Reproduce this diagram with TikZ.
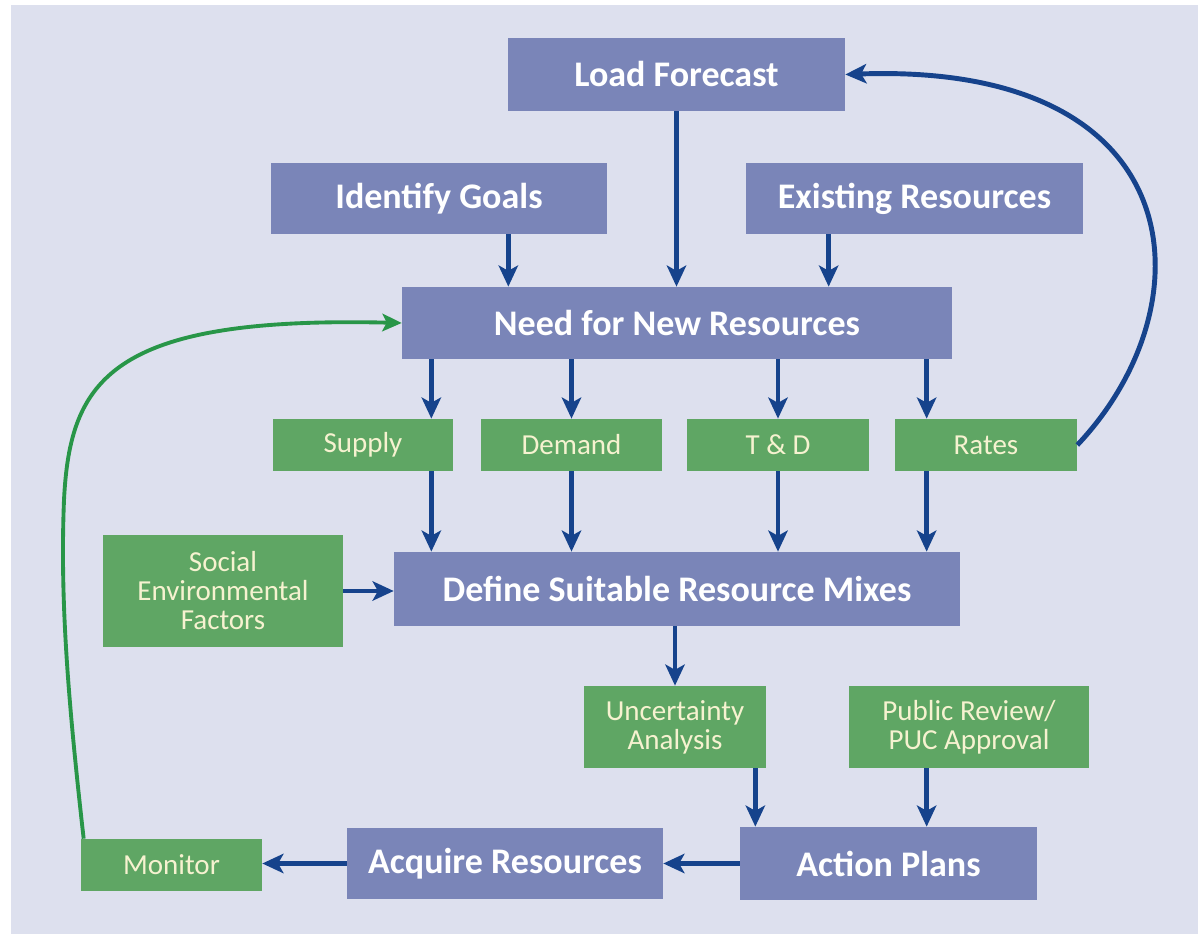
\documentclass[tikz,border=0pt]{standalone}
\usepackage{fontspec}
\setmainfont{Carlito}
\usetikzlibrary{arrows.meta}

\definecolor{fondo}{RGB}{221,224,238}
\definecolor{azulcaja}{RGB}{122,133,184}
\definecolor{verdecaja}{RGB}{95,166,100}
\definecolor{azulflecha}{RGB}{22,67,140}
\definecolor{verdelinea}{RGB}{40,150,72}
\definecolor{textoverde}{RGB}{246,242,208}

\tikzset{
	cajaazul/.style={fill=azulcaja, text=white, inner sep=0pt, align=center,
		font=\bfseries\fontsize{20.5}{22}\selectfont},
	cajaverde/.style={fill=verdecaja, text=textoverde, inner sep=0pt, align=center,
		font=\fontsize{16.5}{16.5}\selectfont},
	flecha/.style={draw=azulflecha, line width=2.8pt, -{Stealth[length=12pt,width=11pt,inset=3pt]}},
	retorno/.style={draw=verdelinea, line width=2.2pt, -{Stealth[length=11pt,width=10pt,inset=2.5pt]}},
}

\begin{document}
\begin{tikzpicture}[x=0.02cm, y=-0.02cm]

			% Fondo y margen
			\useasboundingbox (0,0) rectangle (1198,935);
			\fill[fondo] (11,5) rectangle (1198,934);

			% Cajas principales (azul)
			\node[cajaazul, minimum width=6.74cm, minimum height=1.46cm] (load) at (676.5,74.5) {Load Forecast};
			\node[cajaazul, minimum width=6.72cm, minimum height=1.42cm] (goals) at (439,198.5) {Identify Goals};
			\node[cajaazul, minimum width=6.74cm, minimum height=1.42cm] (exist) at (914.5,198.5) {Existing Resources};
			\node[cajaazul, minimum width=11cm, minimum height=1.44cm] (need) at (677,323) {Need for New Resources};
			\node[cajaazul, minimum width=11.32cm, minimum height=1.48cm] (mixes) at (677,589) {Define Suitable Resource Mixes};
			\node[cajaazul, minimum width=5.94cm, minimum height=1.46cm] (action) at (888.5,863.5) {Action Plans};
			\node[cajaazul, minimum width=6.32cm, minimum height=1.42cm] (acquire) at (505,863.5) {Acquire Resources};

			% Cajas secundarias (verde)
			\node[cajaverde, minimum width=3.6cm, minimum height=1.04cm] (supply) at (363,445) {Supply};
			\node[cajaverde, minimum width=3.62cm, minimum height=1.04cm] (demand) at (571.5,445) {Demand};
			\node[cajaverde, minimum width=3.64cm, minimum height=1.04cm] (td) at (778,445) {T \& D};
			\node[cajaverde, minimum width=3.64cm, minimum height=1.04cm] (rates) at (986,445) {Rates};
			\node[cajaverde, minimum width=4.8cm, minimum height=2.26cm] (social) at (223,591) {Social\\Environmental\\Factors};
			\node[cajaverde, minimum width=3.64cm, minimum height=1.64cm] (unc) at (675,727) {Uncertainty\\Analysis};
			\node[cajaverde, minimum width=4.8cm, minimum height=1.64cm] (review) at (969,727) {Public Review/\\PUC Approval};
			\node[cajaverde, minimum width=3.62cm, minimum height=1.04cm] (monitor) at (171.5,865) {Monitor};

			% Flechas hacia la necesidad de recursos
			\draw[flecha] (load.south) -- (load.south |- need.north);
			\draw[flecha] ([xshift=-1.98cm]goals.south east) -- ([xshift=-1.98cm]goals.south east |- need.north);
			\draw[flecha] ([xshift=1.66cm]exist.south west) -- ([xshift=1.66cm]exist.south west |- need.north);

			% Flechas hacia las opciones
			\draw[flecha] ([xshift=-0.44cm]supply.north east |- need.south) -- ([xshift=-0.44cm]supply.north east);
			\draw[flecha] (demand.north |- need.south) -- (demand.north);
			\draw[flecha] (td.north |- need.south) -- (td.north);
			\draw[flecha] ([xshift=0.64cm]rates.north west |- need.south) -- ([xshift=0.64cm]rates.north west);

			% Flechas hacia las mezclas
			\draw[flecha] ([xshift=-0.44cm]supply.south east) -- ([xshift=-0.44cm]supply.south east |- mixes.north);
			\draw[flecha] (demand.south) -- (demand.south |- mixes.north);
			\draw[flecha] (td.south) -- (td.south |- mixes.north);
			\draw[flecha] ([xshift=0.64cm]rates.south west) -- ([xshift=0.64cm]rates.south west |- mixes.north);
			\draw[flecha] (social.east) -- (social.east -| mixes.west);

			% Parte inferior
			\draw[flecha] (unc.north |- mixes.south) -- (unc.north);
			\draw[flecha] ([xshift=-0.22cm]unc.south east) -- ([xshift=-0.22cm]unc.south east |- action.north);
			\draw[flecha] ([xshift=1.56cm]review.south west) -- ([xshift=1.56cm]review.south west |- action.north);
			\draw[flecha] (action.west) -- (action.west -| acquire.east);
			\draw[flecha] (acquire.west) -- (acquire.west -| monitor.east);

			% Lazos de retorno
			\draw[flecha] (rates.east) .. controls (1210,305) and (1195,62) .. (load.east);
			\draw[retorno] ([xshift=0.06cm]monitor.north west) .. controls (68,700) and (60,600) .. (64,500)
				.. controls (70,380) and (110,316) .. (need.west);

		\end{tikzpicture}
\end{document}
